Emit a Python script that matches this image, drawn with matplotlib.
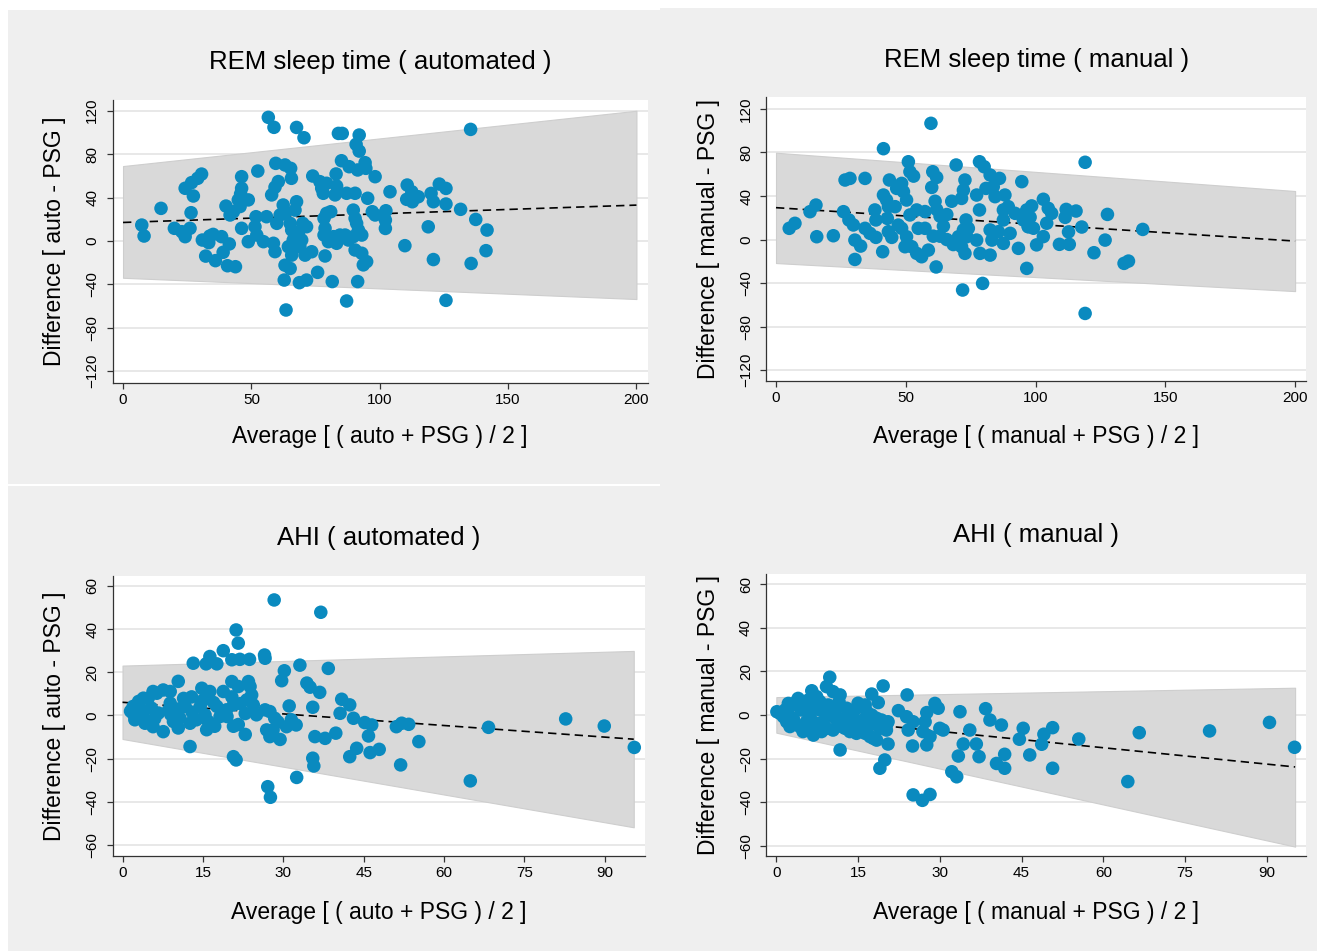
import matplotlib
matplotlib.use('Agg')
from matplotlib import pyplot as plt
from matplotlib.patches import Rectangle

plt.rcParams['font.family'] = ['Liberation Sans', 'DejaVu Sans']

# ---- data ----
rem_auto_avg = [56.6, 58.8, 67.6, 70.5, 83.9, 85.4, 92.0, 90.8, 92.0, 85.1, 88.1, 91.4, 94.3, 94.6, 98.2,
                59.5, 63.1, 65.3, 65.6, 52.5, 46.2, 30.6, 29.1, 26.7, 24.2, 27.4, 14.8, 26.5, 7.3, 8.2,
                20.0, 22.9, 24.2, 26.1, 30.9, 32.2, 33.8, 35.1, 33.4, 38.4, 41.4, 39.0, 36.0, 40.7, 43.8,
                40.1, 43.0, 41.7, 44.9, 46.2, 45.8, 48.8, 45.6, 46.2, 48.8, 51.8, 51.4, 52.1, 54.7, 55.9,
                58.6, 59.2, 59.9, 61.2, 57.9, 59.2, 60.5, 62.4, 63.1, 65.1, 65.7, 66.3, 64.4, 65.7, 63.1,
                65.1, 67.6, 67.0, 68.3, 69.6, 68.9, 70.0, 71.5, 70.9, 73.5, 62.8, 68.7, 71.5, 75.8, 78.7,
                81.5, 63.5, 87.1, 91.4, 73.9, 76.7, 78.0, 77.4, 79.3, 83.0, 83.2, 82.6, 87.1, 90.4, 95.3,
                79.3, 78.3, 80.9, 78.7, 78.3, 80.0, 82.0, 83.2, 84.5, 86.5, 87.8, 89.7, 90.4, 91.0, 91.7,
                93.0, 89.7, 90.4, 93.0, 94.9, 93.6, 97.1, 98.2, 104.0, 102.4, 102.2, 102.2, 109.8, 110.7,
                112.5, 110.5, 112.7, 115.0, 120.0, 120.9, 123.2, 125.8, 125.8, 118.9, 120.9, 131.5, 135.4,
                137.4, 141.8, 141.4, 135.6, 125.8]
rem_auto_diff = [113.9, 104.7, 104.6, 95.1, 99.1, 99.1, 97.6, 89.0, 82.8, 73.9, 68.4, 65.4, 72.1, 66.9, 59.2,
                 71.5, 70.0, 66.9, 57.7, 64.4, 59.2, 61.6, 57.7, 53.7, 48.5, 41.4, 30.0, 26.0, 14.6, 4.5,
                 11.6, 8.5, 3.9, 11.6, 0.8, -14.0, 4.5, 6.0, -1.6, 3.9, -2.8, -10.5, -18.2, -22.9, -23.8,
                 32.1, 26.9, 23.9, 37.8, 48.5, 43.3, 37.8, 31.7, 11.6, -0.7, 22.3, 13.1, 5.4, -0.7, 22.3,
                 -2.2, -9.9, 16.2, 23.9, 42.4, 49.5, 54.7, 33.1, 25.4, 16.2, 10.0, 0.8, -5.4, -13.1, -22.4,
                 -25.4, 36.1, 28.4, 6.9, 0.8, -5.4, 16.2, 13.1, -13.1, -10.0, -36.1, -38.5, -36.1, -29.0, -13.9,
                 -37.5, -63.7, -55.4, -37.5, 59.8, 54.6, 43.9, 48.5, 53.1, 61.7, 50.6, 42.4, 43.9, 43.9, 39.3,
                 25.4, 20.8, 26.9, 11.6, 5.4, -0.7, 3.9, -2.2, 5.4, 5.4, 0.8, 28.4, 20.8, 16.2, 10.0,
                 5.4, 3.9, -8.4, -11.4, -19.1, -22.1, 26.9, 23.9, 45.3, 27.8, 19.2, 11.5, -4.4, 51.5,
                 45.3, 38.3, 36.1, 40.7, 43.8, 36.1, 52.4, 48.4, 34.0, 13.0, -17.2, 29.1, 102.8,
                 19.8, 10.0, -9.0, -20.8, -54.8]

rem_man_avg = [59.7, 41.4, 5.1, 7.3, 13.1, 15.4, 15.7, 22.1, 26.6, 28.5, 34.3, 26.0, 28.1, 29.8, 30.4,
               32.6, 30.4, 34.3, 36.2, 38.5, 38.1, 38.5, 41.1, 41.4, 42.6, 45.9, 43.3, 42.9, 43.3, 44.6,
               43.7, 46.5, 48.4, 49.1, 50.3, 51.0, 53.0, 51.6, 47.1, 48.4, 50.3, 49.7, 52.3, 54.2, 56.1,
               58.7, 54.8, 57.4, 51.6, 54.2, 57.4, 60.4, 61.9, 60.0, 61.3, 61.9, 63.2, 65.8, 67.7, 64.5,
               60.6, 63.2, 65.8, 68.3, 61.7, 69.4, 72.8, 72.2, 71.5, 73.2, 72.2, 74.1, 70.3, 73.5, 71.5,
               72.8, 77.3, 78.6, 82.5, 71.9, 79.6, 78.4, 80.2, 82.5, 86.1, 83.7, 80.9, 77.3, 78.4, 84.4,
               88.2, 87.6, 89.5, 92.1, 94.7, 96.6, 95.3, 87.6, 85.7, 90.2, 82.5, 83.2, 87.6, 93.4, 96.6,
               97.2, 119.1, 119.1, 103.0, 98.5, 96.6, 95.9, 97.9, 99.2, 97.2, 103.0, 100.4, 104.9, 106.2,
               104.3, 111.8, 111.4, 115.6, 112.7, 109.2, 113.0, 117.8, 127.7, 126.8, 122.5, 134.1, 135.8, 141.3]
rem_man_diff = [106.8, 83.5, 10.3, 14.9, 25.6, 31.7, 2.6, 3.5, 54.7, 56.2, 56.2, 25.6, 18.0, 13.4, -0.5,
                -6.0, -18.3, 10.3, 5.7, 2.0, 27.2, 18.0, -11.2, 40.9, 36.3, 30.2, 30.2, 19.4, 7.2, 2.0,
                54.7, 47.0, 51.6, 44.0, 36.3, 71.5, 58.3, 62.3, 13.3, 10.3, 2.6, -6.6, -6.6, -12.7, -15.8,
                -9.7, 10.3, 10.3, 22.6, 27.2, 25.7, 62.3, 57.1, 47.9, 35.2, 27.6, 21.5, 23.0, 35.2, 12.3,
                3.1, 3.1, 0.0, -4.6, -25.2, 68.5, 54.7, 45.4, 37.8, 18.0, 8.8, 10.3, 2.6, 2.6, -6.6,
                -12.7, -0.5, -12.7, -14.3, -46.4, -40.3, 71.5, 66.9, 59.3, 56.2, 48.5, 47.0, 40.9, 27.2, 39.4,
                40.9, 27.2, 30.2, 24.1, 53.2, 27.2, 18.0, 18.0, 7.2, 5.7, 8.8, -0.5, -3.5, -8.1, -26.5,
                11.8, 71.0, -67.9, 37.0, 30.9, 25.7, 19.6, 20.5, 10.4, 11.9, 2.7, -4.9, 28.7, 24.1,
                15.0, 27.7, 20.4, 26.2, 7.0, -4.4, -4.4, 11.5, 23.1, -0.5, -12.1, -21.9, -19.8, 9.3]

ahi_auto_avg = [28.3, 37.0, 21.2, 21.6, 18.8, 16.3, 15.6, 17.6, 13.2, 20.4, 21.9, 23.7, 26.5, 26.6, 30.2,
                29.7, 33.1, 38.4, 10.4, 34.4, 35.0, 36.8, 31.1, 35.5, 40.9, 42.4, 40.6, 43.1, 45.2, 46.5,
                45.9, 43.7, 42.4, 46.2, 47.9, 39.8, 35.9, 37.8, 35.5, 35.7, 32.5, 27.1, 27.6, 20.7, 21.2,
                12.6, 32.4, 30.6, 29.4, 27.5, 28.1, 26.9, 28.4, 27.5, 26.6, 25.0, 22.9, 21.6, 20.7, 22.9,
                20.7, 19.4, 18.2, 17.2, 15.7, 17.6, 18.8, 20.4, 21.6, 23.5, 23.8, 24.1, 23.2, 24.4, 20.4,
                14.8, 16.3, 15.1, 14.5, 15.4, 16.0, 13.8, 12.6, 11.4, 12.9, 11.7, 10.4, 10.7, 9.5, 8.6,
                8.9, 7.6, 6.4, 5.7, 3.9, 2.0, 2.3, 3.9, 4.2, 5.7, 7.6, 6.7, 5.4, 3.3, 2.0, 8.9,
                51.1, 52.1, 53.4, 51.9, 55.3, 64.9, 68.3, 82.7, 89.9, 95.5,
                1.5, 3.0, 4.8, 6.0, 9.0, 10.5, 13.0, 17.0, 19.5, 22.0, 29.0, 31.5]
ahi_auto_diff = [53.5, 47.8, 39.6, 33.5, 30.0, 27.3, 23.9, 23.9, 24.2, 25.8, 26.0, 26.0, 28.0, 26.5, 20.7,
                 16.1, 23.3, 21.8, 15.8, 15.0, 13.1, 10.7, 4.4, 3.8, 7.5, 4.9, 1.0, -1.3, -3.3, -4.4,
                 -9.5, -15.2, -19.1, -17.2, -15.7, -8.2, -9.8, -10.6, -19.8, -23.4, -28.7, -33.0, -37.9, -19.1, -20.6,
                 -14.4, -4.4, -5.2, -11.1, -9.8, -6.7, -6.7, -1.3, 1.8, 2.6, 0.3, -8.8, -4.2, -5.0, 0.9,
                 4.9, 2.6, -0.5, -5.0, -6.6, 4.2, 11.1, 15.7, 13.4, 15.7, 13.4, 9.5, 7.2, 4.9, 8.6,
                 12.6, 11.1, 7.2, 4.2, 0.3, -2.8, -2.0, -3.6, 7.9, 8.6, 4.2, -5.8, -1.2, -2.8, 2.6,
                 11.1, 11.8, 10.3, 11.1, 8.0, 4.2, -2.0, -0.5, -3.6, -5.2, -7.5, 1.1, 3.4, 3.4, 0.8, 5.7,
                 -5.2, -3.6, -4.1, -22.9, -12.1, -30.3, -5.5, -1.6, -4.9, -14.8,
                 2.0, 6.5, 8.0, -1.5, 0.5, 3.0, 1.5, 6.0, -0.5, 5.5, -3.0, -2.0]

ahi_man_avg = [9.8, 9.2, 10.4, 11.7, 11.5, 6.5, 7.4, 19.6, 17.5, 18.7, 15.0, 16.3, 24.0, 22.4, 23.9,
               25.1, 24.2, 27.6, 29.1, 29.7, 27.3, 26.9, 28.2, 30.0, 30.6, 27.6, 25.0, 20.5, 19.9, 19.0,
               11.7, 25.1, 26.8, 28.2, 33.7, 33.4, 34.3, 35.5, 36.7, 37.2, 32.2, 33.1, 38.4, 39.2, 41.3,
               40.4, 41.9, 41.9, 45.3, 44.6, 46.5, 0.1, 1.3, 2.5, 3.7, 4.9, 1.9, 4.3, 4.9, 6.8,
               6.2, 8.0, 8.6, 9.8, 11.1, 10.4, 12.0, 12.9, 13.8, 14.1, 15.3, 15.9, 16.6, 17.2, 17.8,
               18.4, 19.0, 20.5, 20.2, 5.5, 3.1, 7.4, 9.2, 13.5, 14.7, 11.1, 0.7, 4.6, 6.5, 3.4,
               8.9, 16.3, 11.7, 50.7, 49.1, 48.7, 50.7, 55.5, 66.6, 64.5, 79.5, 90.5, 95.1,
               2.2, 4.0, 5.9, 8.0, 9.5, 12.9, 14.1, 10.8, 15.3, 17.5, 19.3, 2.5, 6.2, 8.3, 12.6,
               14.7, 17.2, 18.4, 20.2, 1.6]
ahi_man_diff = [17.3, 13.0, 10.7, 9.2, 6.1, 11.1, 8.4, 13.3, 9.6, 5.7, 5.4, 4.6, 9.2, 2.0, -0.8,
                -3.1, -6.9, 1.1, 5.3, 3.1, -3.1, -7.6, -9.9, -6.1, -6.9, -13.7, -14.2, -13.3, -20.6, -24.4,
                -16.0, -36.6, -39.1, -36.4, 1.5, -18.8, -13.3, -6.9, -13.3, -19.1, -26.0, -28.3, 2.9, -2.3, -4.6,
                -22.2, -18.0, -24.4, -6.1, -11.1, -18.3, 1.5, -0.8, 3.8, 6.1, 6.1, -3.1, -5.3, -7.6, -9.2,
                -0.8, 2.3, -3.1, 0.7, -0.8, -6.9, -5.3, -0.8, 0.7, -3.8, -6.9, -2.3, 1.5, -4.6, -10.7,
                -1.5, -6.1, -3.1, -6.9, -3.1, -1.5, -3.8, -6.1, -7.6, 3.1, 3.8, 0.7, 2.3, 3.8, -3.8,
                3.8, -8.4, -3.1, -5.8, -8.8, -13.4, -24.4, -11.0, -8.1, -30.5, -7.3, -3.4, -14.8,
                5.3, 7.6, 6.9, 6.1, 4.6, 3.1, -0.8, -1.5, -3.1, 0.0, -2.3, -5.3, -6.1, -7.6, -6.1,
                -8.4, -9.9, -11.5, -4.6, 2.3]

# limits of agreement (regression based) and fitted mean difference, at the two ends
rem_auto_band_x = [0, 200]
rem_auto_hi = [69, 120]
rem_auto_lo = [-34, -53.6]
rem_auto_fit = [17, 33]

rem_man_band_x = [0, 200]
rem_man_hi = [79.8, 44.6]
rem_man_lo = [-21.6, -47.4]
rem_man_fit = [29.3, -1.4]

ahi_auto_band_x = [0, 95.4]
ahi_auto_hi = [23.1, 29.9]
ahi_auto_lo = [-10.9, -51.8]
ahi_auto_fit = [6.1, -11]

ahi_man_band_x = [0, 95.2]
ahi_man_hi = [8.2, 12.5]
ahi_man_lo = [-8.1, -60.3]
ahi_man_fit = [0, -23.8]

W, H = 1317, 951
fig = plt.figure(figsize=(W / 100, H / 100), dpi=100)
fig.patch.set_facecolor('white')

bg = '#efefef'
# panel backgrounds (graph regions), drawn under the axes
for (x0, y0, x1, y1) in [(8, 10, 660, 484), (8, 486, 660, 951), (660, 8, 1317, 951)]:
    fig.patches.append(Rectangle((x0 / W, 1 - y1 / H), (x1 - x0) / W, (y1 - y0) / H,
                                 transform=fig.transFigure, facecolor=bg, edgecolor='none',
                                 zorder=-10))

dot = '#0a8abf'


def panel(box, xlim, ylim, xticks, yticks, avg, diff, bx, hi, lo, fit,
          title, xlabel, ylabel, title_y, xlabel_y, ylabel_x):
    l, t, r, b = box
    ax = fig.add_axes([l / W, 1 - b / H, (r - l) / W, (b - t) / H])
    ax.set_facecolor('white')
    ax.fill_between(bx, lo, hi, color='#d9d9d9', edgecolor='#cecece', lw=0.8, zorder=1)
    ax.plot(bx, fit, color='black', ls=(0, (5, 3)), lw=1.2, zorder=3)
    ax.scatter(avg, diff, s=95, color=dot, edgecolors='none', zorder=4)
    ax.set_xlim(*xlim)
    ax.set_ylim(*ylim)
    ax.set_xticks(xticks)
    ax.set_yticks(yticks)
    ax.grid(axis='y', color='#e4e4e4', lw=1.2, zorder=0)
    ax.set_axisbelow(True)
    for s in ('top', 'right'):
        ax.spines[s].set_visible(False)
    for s in ('left', 'bottom'):
        ax.spines[s].set_color('#333333')
        ax.spines[s].set_linewidth(0.9)
    ax.tick_params(length=4.5, width=0.9, color='#333333', labelsize=11, pad=3)
    ax.tick_params(axis='y', pad=5)
    for lbl in ax.get_yticklabels():
        lbl.set_rotation(90)
        lbl.set_va('center')
    cx = (l + r) / 2 / W
    fig.text(cx, 1 - title_y / H, title, ha='center', va='center', fontsize=18.5)
    fig.text(cx, 1 - xlabel_y / H, xlabel, ha='center', va='center', fontsize=16.5)
    fig.text(ylabel_x / W, 1 - (t + b) / 2 / H, ylabel, ha='center', va='center',
             rotation=90, fontsize=16.5)
    return ax


panel((112.5, 100, 648, 383), (-4.1, 204.5), (-131, 129.9), [0, 50, 100, 150, 200],
      [-120, -80, -40, 0, 40, 80, 120], rem_auto_avg, rem_auto_diff,
      rem_auto_band_x, rem_auto_hi, rem_auto_lo, rem_auto_fit,
      'REM sleep time ( automated )', 'Average [ ( auto + PSG ) / 2 ]',
      'Difference [ auto - PSG ]', 62, 437, 55)

panel((766.4, 97, 1306, 381), (-3.7, 204.2), (-130, 131), [0, 50, 100, 150, 200],
      [-120, -80, -40, 0, 40, 80, 120], rem_man_avg, rem_man_diff,
      rem_man_band_x, rem_man_hi, rem_man_lo, rem_man_fit,
      'REM sleep time ( manual )', 'Average [ ( manual + PSG ) / 2 ]',
      'Difference [ manual - PSG ]', 60, 437, 708)

panel((112.5, 576, 645, 856), (-1.87, 97.5), (-65.1, 64.6), [0, 15, 30, 45, 60, 75, 90],
      [-60, -40, -20, 0, 20, 40, 60], ahi_auto_avg, ahi_auto_diff,
      ahi_auto_band_x, ahi_auto_hi, ahi_auto_lo, ahi_auto_fit,
      'AHI ( automated )', 'Average [ ( auto + PSG ) / 2 ]',
      'Difference [ auto - PSG ]', 538, 912, 55)

panel((766, 574, 1306, 856), (-1.9, 97.2), (-64.6, 64.6), [0, 15, 30, 45, 60, 75, 90],
      [-60, -40, -20, 0, 20, 40, 60], ahi_man_avg, ahi_man_diff,
      ahi_man_band_x, ahi_man_hi, ahi_man_lo, ahi_man_fit,
      'AHI ( manual )', 'Average [ ( manual + PSG ) / 2 ]',
      'Difference [ manual - PSG ]', 535, 912, 708)

fig.savefig('out.png', dpi=100, facecolor=fig.get_facecolor())
